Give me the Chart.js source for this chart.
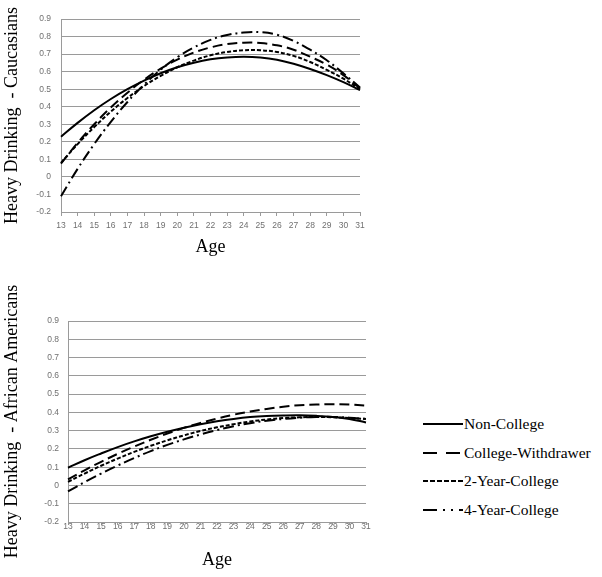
<!DOCTYPE html>
<html>
<head>
<meta charset="utf-8">
<script src="https://cdn.jsdelivr.net/npm/chart.js@4.4.1/dist/chart.umd.min.js"></script>
<style>
  body { margin: 0; background: #fff; width: 602px; height: 577px; position: relative; overflow: hidden; }
  .box { position: absolute; left: 0; }
  #legend { position: absolute; left: 423px; top: 410px; color: #000; }
  .item { height: 28.5px; display: flex; align-items: center; }
  .item span { font-family: "Liberation Serif", "Times New Roman", serif; font-size: 15.5px; }
  .item svg { margin-right: 1px; }
</style>
</head>
<body>
<div class="box" style="top:0;width:372px;height:260px;"><canvas id="caucasianChart"></canvas></div>
<div class="box" style="top:270px;width:380px;height:307px;"><canvas id="africanChart"></canvas></div>
<div id="legend"></div>

<script>
// Data
const ages = ['13','14','15','16','17','18','19','20','21','22','23','24','25','26','27','28','29','30','31'];
const yTickValues = [-0.2, -0.1, 0, 0.1, 0.2, 0.3, 0.4, 0.5, 0.6, 0.7, 0.8, 0.9];
const seriesNames = ['Non-College', 'College-Withdrawer', '2-Year-College', '4-Year-College'];

// Caucasians
const whiteNonCollege  = [0.229, 0.308, 0.380, 0.444, 0.500, 0.549, 0.591, 0.625, 0.651, 0.670, 0.681, 0.685, 0.681, 0.668, 0.645, 0.615, 0.580, 0.540, 0.495];
const whiteWithdrawer  = [0.076, 0.194, 0.300, 0.396, 0.480, 0.554, 0.617, 0.668, 0.709, 0.738, 0.757, 0.765, 0.763, 0.750, 0.725, 0.685, 0.640, 0.580, 0.505];
const whiteTwoYear     = [0.080, 0.187, 0.284, 0.372, 0.450, 0.518, 0.576, 0.625, 0.663, 0.693, 0.712, 0.722, 0.722, 0.712, 0.690, 0.655, 0.610, 0.560, 0.500];
const whiteFourYear    = [-0.110, 0.046, 0.187, 0.314, 0.427, 0.526, 0.611, 0.682, 0.738, 0.781, 0.809, 0.823, 0.825, 0.810, 0.775, 0.725, 0.665, 0.590, 0.510];

// African Americans
const blackNonCollege  = [0.097, 0.138, 0.175, 0.210, 0.241, 0.269, 0.294, 0.316, 0.335, 0.351, 0.364, 0.374, 0.380, 0.383, 0.384, 0.381, 0.375, 0.364, 0.345];
const blackWithdrawer  = [0.033, 0.083, 0.129, 0.173, 0.213, 0.250, 0.284, 0.315, 0.342, 0.366, 0.387, 0.405, 0.419, 0.431, 0.439, 0.443, 0.445, 0.443, 0.437];
const blackTwoYear     = [0.020, 0.065, 0.108, 0.147, 0.184, 0.217, 0.247, 0.274, 0.298, 0.318, 0.335, 0.350, 0.361, 0.369, 0.373, 0.375, 0.373, 0.369, 0.364];
const blackFourYear    = [-0.033, 0.018, 0.065, 0.109, 0.150, 0.188, 0.222, 0.252, 0.279, 0.303, 0.324, 0.341, 0.354, 0.364, 0.371, 0.375, 0.375, 0.371, 0.364];

// Line styles per series
const dashes = [[], [10, 5], [4, 2], [11, 4, 2, 4]];
const legendDashes = [[], [14, 9], [5, 2], [14, 6, 2, 6, 2, 6]];

const gridGray = '#9a9a9a';
const tickGray = '#707070';

function buildDatasets(values) {
  return values.map(function (data, i) {
    return {
      label: seriesNames[i],
      data: data,
      borderColor: '#000',
      borderWidth: 2,
      borderDash: dashes[i],
      pointRadius: 0,
      tension: 0.4,
      fill: false
    };
  });
}

function renderChart(chartId, yTitle, values, lay) {
  const ctx = document.getElementById(chartId).getContext('2d');
  return new Chart(ctx, {
    type: 'line',
    data: { labels: ages, datasets: buildDatasets(values) },
    options: {
      responsive: true,
      maintainAspectRatio: false,
      animation: false,
      layout: { padding: { top: lay.top, right: lay.right, left: 0, bottom: 0 } },
      plugins: { legend: { display: false }, tooltip: { enabled: false } },
      scales: {
        x: {
          type: 'category',
          offset: false,
          grid: { drawOnChartArea: false, drawTicks: true, tickLength: lay.xTick, color: gridGray },
          border: { display: true, color: gridGray },
          ticks: { color: tickGray, font: { family: 'Liberation Sans', size: 8.5 }, padding: lay.xPad, maxRotation: 0, autoSkip: false },
          title: { display: true, text: 'Age', color: '#000', font: { family: 'Liberation Serif', size: 18 }, padding: { top: 0, bottom: lay.ageBottom } },
          afterFit: function (s) { s.height = lay.xHeight; }
        },
        y: {
          min: yTickValues[0],
          max: yTickValues[yTickValues.length - 1],
          grid: { color: gridGray, drawTicks: false },
          border: { display: true, color: gridGray },
          ticks: {
            stepSize: 0.1,
            padding: lay.yPad,
            color: tickGray,
            font: { family: 'Liberation Sans', size: 8.5 },
            callback: function (v) { return String(Math.round(v * 10) / 10); }
          },
          title: { display: true, text: yTitle, color: '#000', font: { family: 'Liberation Serif', size: 18 }, padding: { top: 1, bottom: 0 } },
          afterFit: function (s) { s.width = lay.yWidth; }
        }
      }
    }
  });
}

renderChart('caucasianChart', 'Heavy Drinking  - Caucasians',
  [whiteNonCollege, whiteWithdrawer, whiteTwoYear, whiteFourYear],
  { top: 19, right: 12, yWidth: 61, yPad: 10, xHeight: 48, xTick: 4, xPad: 5, ageBottom: 2 });

renderChart('africanChart', 'Heavy Drinking  - African Americans',
  [blackNonCollege, blackWithdrawer, blackTwoYear, blackFourYear],
  { top: 51, right: 14, yWidth: 68, yPad: 9, xHeight: 55, xTick: 3, xPad: -3, ageBottom: 6 });

// HTML legend
const legend = document.getElementById('legend');
seriesNames.forEach(function (name, i) {
  const item = document.createElement('div');
  item.className = 'item';
  item.innerHTML = '<svg width="40" height="6"><line x1="0" y1="3" x2="40" y2="3" stroke="#000" stroke-width="2" stroke-dasharray="' +
    legendDashes[i].join(' ') + '"/></svg><span>' + name + '</span>';
  legend.appendChild(item);
});
</script>
</body>
</html>
